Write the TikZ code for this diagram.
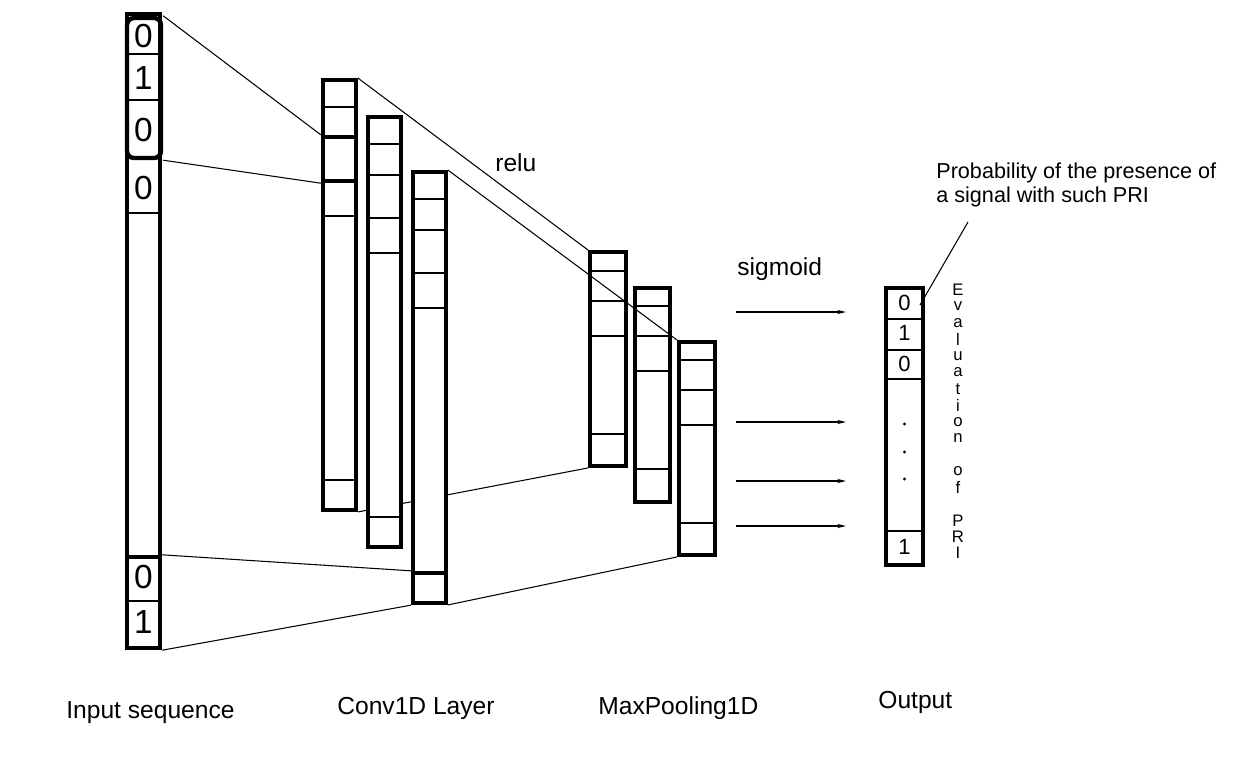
\documentclass[tikz,border=0pt]{standalone}
\usepackage{fontspec}
\setmainfont{Liberation Sans}
\usetikzlibrary{fit,backgrounds,arrows.meta}
\tikzset{
  colbox/.style={draw, line width=2.2pt, fill=white, inner sep=0pt},
  winbox/.style={draw, line width=2.5pt, inner sep=0pt},
  cell/.style={line width=0.6pt},
  link/.style={line width=0.6pt},
  lab/.style={anchor=base west, inner sep=0pt, font=\fontsize{14}{17}\selectfont},
  digit/.style={inner sep=0pt, font=\fontsize{19}{22}\selectfont},
  odigit/.style={inner sep=0pt, font=\fontsize{12.5}{14}\selectfont},
  vletter/.style={inner sep=0pt, font=\fontsize{9.5}{11}\selectfont},
  note/.style={anchor=base west, inner sep=0pt, font=\fontsize{12.3}{14}\selectfont},
}
\begin{document}
\begin{tikzpicture}[x=0.02cm, y=-0.02cm, >={Stealth[length=5pt,width=2.4pt]}]
\useasboundingbox (0,0) rectangle (1250,768);
% input sequence
\node[colbox, fit={(127,14) (160,648)}] (inp) {};
\foreach \y in {54,100,213,601} \draw[cell] (127,\y) -- (160,\y);
\node[winbox, rounded corners=4pt, fit={(127,18) (161,158)}] (win1) {};
\node[winbox, fit={(127,557) (160,648)}] (win2) {};
\foreach \y/\d in {36/0,78/1,130/0,188/0,577/0,622/1}
  \node[digit] (d\y) at (143.5,\y) {\d};
% conv1d
\node[colbox, fit={(323,80) (356,510)}] (c1) {};
\foreach \y in {107,216,480} \draw[cell] (323,\y) -- (356,\y);
\node[winbox, fit={(323,137) (356,181)}] (k1) {};
\draw[link] (win1.north east) -- (k1.north west);
\draw[link] (win1.south east) -- (k1.south west);
\node[colbox, fit={(368,117) (401,547)}] (c2) {};
\foreach \y in {144,175,218,253,517} \draw[cell] (368,\y) -- (401,\y);
\node[colbox, fit={(413,172) (446,603)}] (c3) {};
\foreach \y in {199,230,273,308} \draw[cell] (413,\y) -- (446,\y);
\node[winbox, fit={(413,573) (446,603)}] (k3) {};
\draw[link] (win2.north east) -- (k3.north west);
\draw[link] (win2.south east) -- (k3.south west);
% maxpooling1d
\node[colbox, fit={(590,252) (626,466)}] (m1) {};
\foreach \y in {271,301,336,434} \draw[cell] (590,\y) -- (626,\y);
\node[colbox, fit={(635,288) (670,502)}] (m2) {};
\foreach \y in {306,336,371,469} \draw[cell] (635,\y) -- (670,\y);
\node[colbox, fit={(679,342) (715,555)}] (m3) {};
\foreach \y in {360,390,425,523} \draw[cell] (679,\y) -- (715,\y);
\begin{scope}[on background layer]
\draw[link] (c1.south east) -- (m1.south west);
\end{scope}
\draw[link] (c1.north east) -- (m1.north west);
\draw[link] (c3.north east) -- (m3.north west);
\draw[link] (c3.south east) -- (m3.south west);
\node[lab] (relu) at (495,171) {relu};
\node[lab] (sigm) at (737,275) {sigmoid};
% arrows
\foreach \y [count=\i] in {312,422,481,526}{
  \coordinate (a\i) at (736,\y);
  \coordinate (b\i) at (846,\y);
  \draw[link, ->] (a\i) -- (b\i);
}
% output
\node[colbox, fit={(886,288) (923,565)}] (out) {};
\foreach \y in {319,350,379,531} \draw[cell] (886,\y) -- (923,\y);
\foreach \y/\d in {303/0,333/1,364/0,547/1}
  \node[odigit] (o\y) at (904.5,\y) {\d};
\foreach \y in {424,452,479} \fill (904.5,\y) circle (1.6);
\foreach \l [count=\i] in {E,v,a,l,u,a,t,i,o,n,,o,f,,P,R,I}
  \node[vletter] (ev\i) at (958,290+16.45*\i-16.45) {\l};
% note
\node[note] (prob1) at (936,178) {Probability of the presence of};
\node[note] (prob2) at (936,202) {a signal with such PRI};
\coordinate (ptrs) at (968,222);
\coordinate (ptre) at (920,305);
\draw[link] (ptrs) -- (ptre);
% captions
\node[lab] (capin) at (66,718) {Input sequence};
\node[lab] (capconv) at (337,714) {Conv1D Layer};
\node[lab] (cappool) at (598,714) {MaxPooling1D};
\node[lab] (capout) at (878,708) {Output};
\end{tikzpicture}
\end{document}
